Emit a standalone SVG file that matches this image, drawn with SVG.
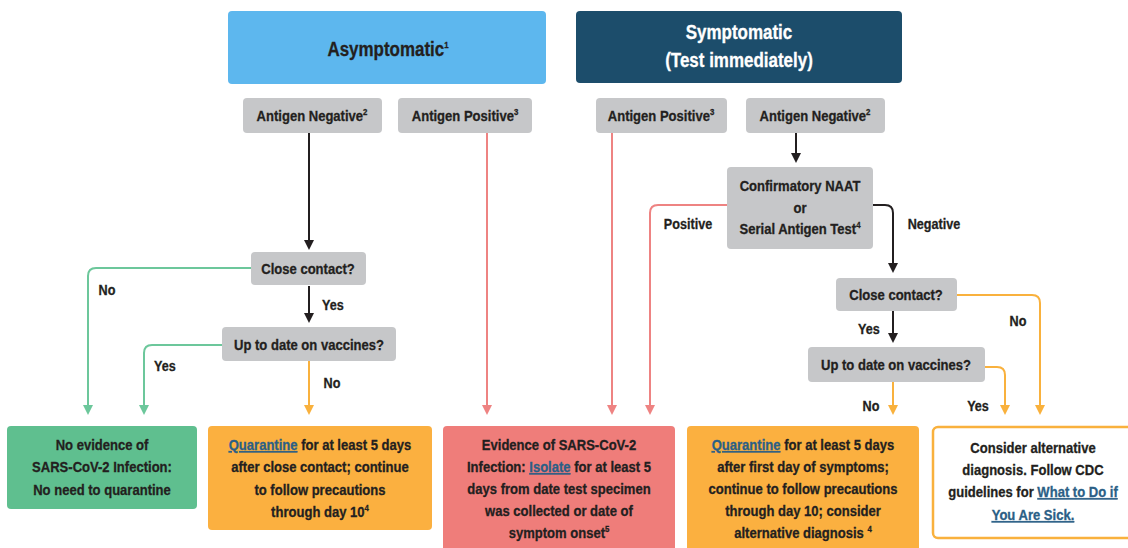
<svg xmlns="http://www.w3.org/2000/svg" width="1128" height="548" viewBox="0 0 1128 548">
<defs>
<style>
text{font-family:"Liberation Sans",Arial,sans-serif;font-weight:bold;fill:#231f20;stroke:#231f20;stroke-width:0.3;text-anchor:middle;transform-box:fill-box;transform-origin:center;transform:scaleX(0.87)}
.hd{font-size:19.5px}
.wt{fill:#ffffff;stroke:#ffffff}
.g{font-size:15px}
.b{font-size:15px}
.lbl{font-size:14.5px}
.sup{font-size:9px}
.lnk{fill:#2b5f86;stroke:#2b5f86;text-decoration:underline}
.grey{fill:#c6c7c9}
.c{fill:none;stroke-width:2}
.k{stroke:#231f20}
.gr{stroke:#6cc79b}
.or{stroke:#f9b13d}
.rd{stroke:#ee8382}
</style>
<marker id="ak" markerUnits="userSpaceOnUse" markerWidth="12" markerHeight="10" viewBox="0 0 10 10" refX="8" refY="5" orient="auto"><path d="M0,0 L10,5 L0,10 z" fill="#231f20"/></marker>
<marker id="ag" markerUnits="userSpaceOnUse" markerWidth="12" markerHeight="10" viewBox="0 0 10 10" refX="8" refY="5" orient="auto"><path d="M0,0 L10,5 L0,10 z" fill="#6cc79b"/></marker>
<marker id="ao" markerUnits="userSpaceOnUse" markerWidth="12" markerHeight="10" viewBox="0 0 10 10" refX="8" refY="5" orient="auto"><path d="M0,0 L10,5 L0,10 z" fill="#f9b13d"/></marker>
<marker id="ar" markerUnits="userSpaceOnUse" markerWidth="12" markerHeight="10" viewBox="0 0 10 10" refX="8" refY="5" orient="auto"><path d="M0,0 L10,5 L0,10 z" fill="#ee8382"/></marker>
</defs>
<rect width="1128" height="548" fill="#ffffff"/>

<g id="connectors">
<path class="c k" d="M309,133 V248" marker-end="url(#ak)"/>
<path class="c k" d="M309,286 V321" marker-end="url(#ak)"/>
<path class="c gr" d="M251,268 H96 Q88,268 88,276 V413" marker-end="url(#ag)"/>
<path class="c gr" d="M222,345 H152 Q144,345 144,353 V413" marker-end="url(#ag)"/>
<path class="c or" d="M309,361 V413" marker-end="url(#ao)"/>
<path class="c rd" d="M487,133 V413" marker-end="url(#ar)"/>
<path class="c rd" d="M612,133 V413" marker-end="url(#ar)"/>
<path class="c k" d="M796,133 V161" marker-end="url(#ak)"/>
<path class="c rd" d="M727,205 H658 Q650,205 650,213 V413" marker-end="url(#ar)"/>
<path class="c k" d="M873,205 H885 Q893,205 893,213 V271" marker-end="url(#ak)"/>
<path class="c k" d="M893,311 V341" marker-end="url(#ak)"/>
<path class="c or" d="M957,295 H1032 Q1040,295 1040,303 V413" marker-end="url(#ao)"/>
<path class="c or" d="M985,367 H997 Q1005,367 1005,375 V413" marker-end="url(#ao)"/>
<path class="c or" d="M893,382 V413" marker-end="url(#ao)"/>
<text class="lbl" x="107" y="295">No</text>
<text class="lbl" x="333" y="310">Yes</text>
<text class="lbl" x="165" y="371">Yes</text>
<text class="lbl" x="332" y="388">No</text>
<text class="lbl" x="688" y="229">Positive</text>
<text class="lbl" x="934" y="229">Negative</text>
<text class="lbl" x="869" y="334">Yes</text>
<text class="lbl" x="1018" y="326">No</text>
<text class="lbl" x="871" y="411">No</text>
<text class="lbl" x="978" y="411">Yes</text>
</g>

<g id="asymptomatic">
<rect x="228" y="11" width="318" height="73" rx="4" fill="#5db7ee"/>
<text class="hd" x="388" y="56">Asymptomatic<tspan class="sup" dy="-8">1</tspan></text>
</g>
<g id="symptomatic">
<rect x="576" y="11" width="326" height="72" rx="4" fill="#1c4d6b"/>
<text class="hd wt" x="739" y="39">Symptomatic</text>
<text class="hd wt" x="739" y="67">(Test immediately)</text>
</g>

<g id="a-neg-left">
<rect class="grey" x="243" y="98" width="139" height="35" rx="4"/>
<text class="g" x="312" y="121">Antigen Negative<tspan class="sup" dy="-6">2</tspan></text>
</g>
<g id="a-pos-left">
<rect class="grey" x="398" y="98" width="134" height="35" rx="4"/>
<text class="g" x="465" y="121">Antigen Positive<tspan class="sup" dy="-6">3</tspan></text>
</g>
<g id="a-pos-right">
<rect class="grey" x="596" y="98" width="131" height="35" rx="4"/>
<text class="g" x="661" y="121">Antigen Positive<tspan class="sup" dy="-6">3</tspan></text>
</g>
<g id="a-neg-right">
<rect class="grey" x="746" y="98" width="139" height="35" rx="4"/>
<text class="g" x="815" y="121">Antigen Negative<tspan class="sup" dy="-6">2</tspan></text>
</g>

<g id="close-left">
<rect class="grey" x="251" y="252" width="115" height="33" rx="4"/>
<text class="g" x="308" y="274">Close contact?</text>
</g>
<g id="vacc-left">
<rect class="grey" x="222" y="327" width="174" height="34" rx="4"/>
<text class="g" x="309" y="350">Up to date on vaccines?</text>
</g>

<g id="confirm">
<rect class="grey" x="727" y="167" width="146" height="82" rx="4"/>
<text class="g" x="800" y="191">Confirmatory NAAT</text>
<text class="g" x="800" y="213">or</text>
<text class="g" x="800" y="234">Serial Antigen Test<tspan class="sup" dy="-6">4</tspan></text>
</g>
<g id="close-right">
<rect class="grey" x="836" y="278" width="121" height="33" rx="4"/>
<text class="g" x="896" y="300">Close contact?</text>
</g>
<g id="vacc-right">
<rect class="grey" x="808" y="347" width="177" height="35" rx="4"/>
<text class="g" x="896" y="370">Up to date on vaccines?</text>
</g>

<g id="no-evidence">
<rect x="7" y="426" width="190" height="83" rx="4" fill="#5fbf8f"/>
<text class="b" x="102" y="450">No evidence of</text>
<text class="b" x="102" y="472">SARS-CoV-2 Infection:</text>
<text class="b" x="102" y="495">No need to quarantine</text>
</g>
<g id="quarantine-contact">
<rect x="208" y="426" width="224" height="104" rx="4" fill="#fbb040"/>
<text class="b" x="320" y="450"><tspan class="lnk">Quarantine</tspan> for at least 5 days</text>
<text class="b" x="320" y="472">after close contact; continue</text>
<text class="b" x="320" y="495">to follow precautions</text>
<text class="b" x="320" y="517">through day 10<tspan class="sup" dy="-6">4</tspan></text>
</g>
<g id="isolate">
<rect x="443" y="426" width="232" height="130" rx="4" fill="#ef7d7a"/>
<text class="b" x="559" y="450">Evidence of SARS-CoV-2</text>
<text class="b" x="559" y="472">Infection: <tspan class="lnk">Isolate</tspan> for at least 5</text>
<text class="b" x="559" y="494">days from date test specimen</text>
<text class="b" x="559" y="516">was collected or date of</text>
<text class="b" x="559" y="538">symptom onset<tspan class="sup" dy="-6">5</tspan></text>
</g>
<g id="quarantine-symptoms">
<rect x="687" y="426" width="232" height="130" rx="4" fill="#fbb040"/>
<text class="b" x="803" y="450"><tspan class="lnk">Quarantine</tspan> for at least 5 days</text>
<text class="b" x="803" y="472">after first day of symptoms;</text>
<text class="b" x="803" y="494">continue to follow precautions</text>
<text class="b" x="803" y="516">through day 10; consider</text>
<text class="b" x="803" y="538">alternative diagnosis <tspan class="sup" dy="-6">4</tspan></text>
</g>
<g id="alternative">
<rect x="933" y="427" width="205" height="111" rx="5" fill="#ffffff" stroke="#f9b13d" stroke-width="2.5"/>
<text class="b" x="1033" y="453">Consider alternative</text>
<text class="b" x="1033" y="475">diagnosis. Follow CDC</text>
<text class="b" x="1033" y="497">guidelines for <tspan class="lnk">What to Do if</tspan></text>
<text class="b" x="1033" y="520"><tspan class="lnk">You Are Sick.</tspan></text>
</g>
</svg>
